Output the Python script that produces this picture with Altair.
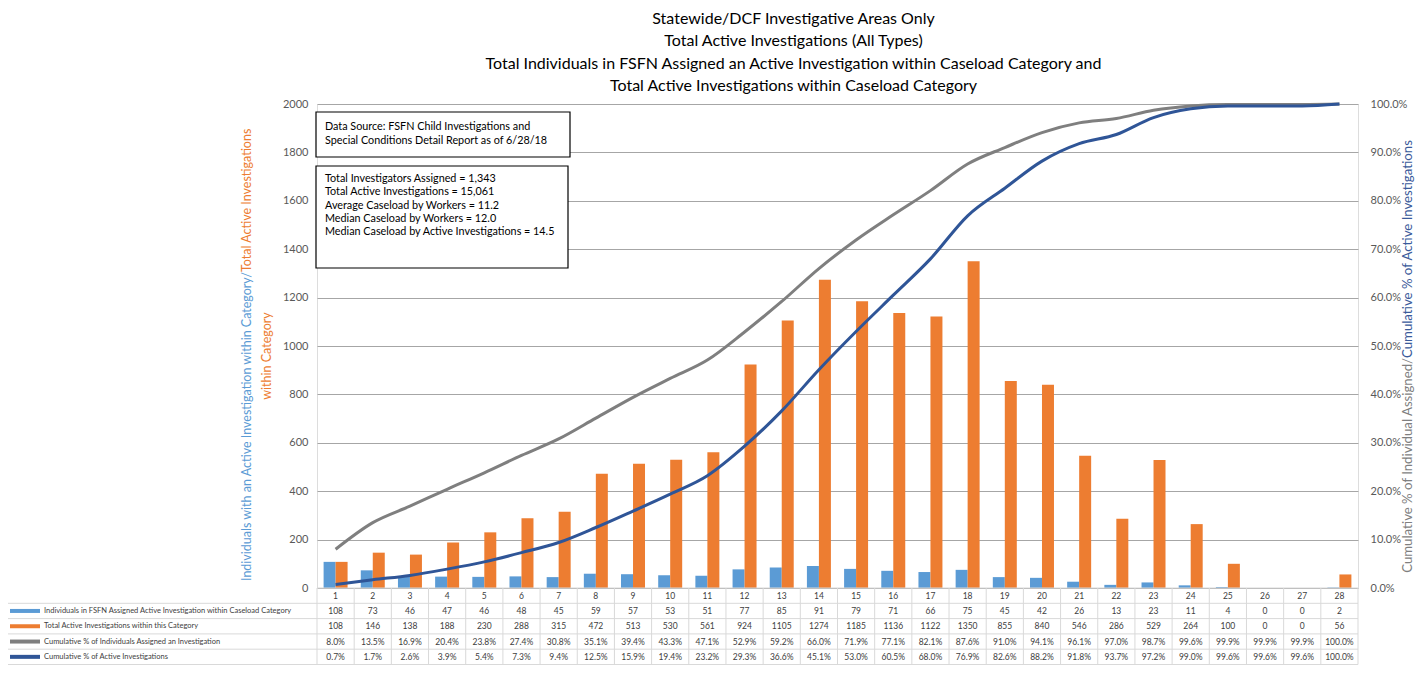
import altair as alt
import pandas as pd

FONT = "Lato"

cats = list(range(1, 29))
individuals = [108, 73, 46, 47, 46, 48, 45, 59, 57, 53, 51, 77, 85, 91, 79, 71, 66, 75, 45, 42, 26, 13, 23, 11, 4, 0, 0, 2]
active = [108, 146, 138, 188, 230, 288, 315, 472, 513, 530, 561, 924, 1105, 1274, 1185, 1136, 1122, 1350, 855, 840, 546, 286, 529, 264, 100, 0, 0, 56]
cum_ind = [8.0, 13.5, 16.9, 20.4, 23.8, 27.4, 30.8, 35.1, 39.4, 43.3, 47.1, 52.9, 59.2, 66.0, 71.9, 77.1, 82.1, 87.6, 91.0, 94.1, 96.1, 97.0, 98.7, 99.6, 99.9, 99.9, 99.9, 100.0]
cum_act = [0.7, 1.7, 2.6, 3.9, 5.4, 7.3, 9.4, 12.5, 15.9, 19.4, 23.2, 29.3, 36.6, 45.1, 53.0, 60.5, 68.0, 76.9, 82.6, 88.2, 91.8, 93.7, 97.2, 99.0, 99.6, 99.6, 99.6, 100.0]

series = [
    "Individuals in FSFN Assigned Active Investigation within Caseload Category",
    "Total Active Investigations within this Category",
    "Cumulative % of Individuals Assigned an Investigation",
    "Cumulative % of Active Investigations",
]
colors = ["#5B9BD5", "#ED7D31", "#7F7F7F", "#2F5597"]

title_lines = [
    "Statewide/DCF Investigative Areas Only",
    "Total Active Investigations (All Types)",
    "Total Individuals in FSFN  Assigned an Active Investigation within  Caseload Category and",
    "Total Active Investigations within  Caseload Category",
]
source_lines = ["Data Source: FSFN Child Investigations and", "Special Conditions Detail Report as of 6/28/18"]
stats_lines = [
    "Total Investigators Assigned = 1,343",
    "Total Active Investigations = 15,061",
    "Average Caseload by Workers = 11.2",
    "Median Caseload by Workers = 12.0",
    "Median Caseload by Active Investigations = 14.5",
]
left_title_blue = "Individuals with an Active Investigation within Category/"
left_title_orange = "Total Active Investigations"
left_title_line2 = "within Category"
right_title_gray = "Cumulative % of Individual Assigned/"
right_title_blue = "Cumulative % of Active Investigations"

W, H = 1041, 484

# ---------- data tables ----------
bars_df = pd.DataFrame(
    [{"cat": c, "series": series[0], "value": v} for c, v in zip(cats, individuals)]
    + [{"cat": c, "series": series[1], "value": v} for c, v in zip(cats, active)]
)
lines_df = pd.DataFrame(
    [{"cat": c, "series": series[2], "value": v} for c, v in zip(cats, cum_ind)]
    + [{"cat": c, "series": series[3], "value": v} for c, v in zip(cats, cum_act)]
)
table_rows = []
for i, c in enumerate(cats):
    table_rows.append({"cat": c, "row": 0, "label": str(c)})
    table_rows.append({"cat": c, "row": 1, "label": str(individuals[i])})
    table_rows.append({"cat": c, "row": 2, "label": str(active[i])})
    table_rows.append({"cat": c, "row": 3, "label": f"{cum_ind[i]:.1f}%"})
    table_rows.append({"cat": c, "row": 4, "label": f"{cum_act[i]:.1f}%"})
table_df = pd.DataFrame(table_rows)
legend_df = pd.DataFrame({"row": [1, 2, 3, 4], "series": series})
hlines_df = pd.DataFrame({"b": [0.5, 1.5, 2.5, 3.5, 4.5]})
vlines_df = pd.DataFrame({"cat": cats})
one = pd.DataFrame({"k": [0]})

color_scale = alt.Scale(domain=series, range=colors)
xenc = alt.X("cat:O", scale=alt.Scale(paddingInner=0, paddingOuter=0), axis=None)
tscale = alt.Scale(domain=[-0.5, 4.5], range=[H, H + 76.5], zero=False, nice=False)

bars = alt.Chart(bars_df).mark_bar().encode(
    x=xenc,
    xOffset=alt.XOffset("series:N", scale=alt.Scale(domain=series[:2], paddingOuter=0.55, paddingInner=0)),
    y=alt.Y("value:Q", scale=alt.Scale(domain=[0, 2000], nice=False),
            axis=alt.Axis(orient="left", values=list(range(0, 2001, 200)), title=None, format="d",
                          domain=False, ticks=False, grid=True, gridColor="#A6A6A6",
                          labelFont=FONT, labelFontSize=11, labelColor="#595959", labelPadding=9)),
    color=alt.Color("series:N", scale=color_scale, legend=None),
)

lines = alt.Chart(lines_df).mark_line(strokeWidth=3, interpolate="monotone").encode(
    x=xenc,
    y=alt.Y("value:Q", scale=alt.Scale(domain=[0, 100], nice=False),
            axis=alt.Axis(orient="right", values=list(range(0, 101, 10)), title=None,
                          domain=False, ticks=False, grid=False,
                          labelExpr="format(datum.value, '.1f') + '%'",
                          labelFont=FONT, labelFontSize=11, labelColor="#595959", labelPadding=12)),
    color=alt.Color("series:N", scale=color_scale, legend=None),
)

box1 = alt.Chart(one).mark_rect(fill="white", stroke="black", strokeWidth=1.2).encode(
    x=alt.value(-1), x2=alt.value(253), y=alt.value(8), y2=alt.value(53))
box2 = alt.Chart(one).mark_rect(fill="white", stroke="black", strokeWidth=1.2).encode(
    x=alt.value(-1), x2=alt.value(251), y=alt.value(62), y2=alt.value(164))
box1_text = alt.Chart(one).mark_text(align="left", baseline="middle", font=FONT, fontSize=10.8,
                                     lineHeight=14, color="black").encode(
    x=alt.value(8), y=alt.value(23), text=alt.value(source_lines))
box2_text = alt.Chart(one).mark_text(align="left", baseline="middle", font=FONT, fontSize=10.8,
                                     lineHeight=13.3, color="black").encode(
    x=alt.value(8), y=alt.value(75), text=alt.value(stats_lines))

# table grid
h_top = alt.Chart(one).mark_rule(color="#D9D9D9", strokeWidth=1).encode(
    y=alt.Y(datum=-0.5, type="quantitative", scale=tscale, axis=None), x=alt.value(0), x2=alt.value(W))
h_rules = alt.Chart(hlines_df).mark_rule(color="#D9D9D9", strokeWidth=1).encode(
    y=alt.Y("b:Q", scale=tscale, axis=None), x=alt.value(-310), x2=alt.value(W))
v_rules = alt.Chart(vlines_df).mark_rule(color="#D9D9D9", strokeWidth=1).encode(
    x=alt.X("cat:O", scale=alt.Scale(paddingInner=0, paddingOuter=0), axis=None, bandPosition=0),
    y=alt.Y(datum=-0.5, type="quantitative", scale=tscale, axis=None), y2=alt.Y2(datum=4.5))
v_right = alt.Chart(one).mark_rule(color="#D9D9D9", strokeWidth=1).encode(
    x=alt.value(W), y=alt.Y(datum=-0.5, type="quantitative", scale=tscale, axis=None), y2=alt.Y2(datum=4.5))
v_left = alt.Chart(one).mark_rule(color="#D9D9D9", strokeWidth=1).encode(
    x=alt.value(-310), y=alt.Y(datum=0.5, type="quantitative", scale=tscale, axis=None), y2=alt.Y2(datum=4.5))

table_text = alt.Chart(table_df).mark_text(baseline="middle", align="center", font=FONT, fontSize=8.5,
                                           color="#404040").encode(
    x=xenc, y=alt.Y("row:Q", scale=tscale, axis=None), text="label:N")
swatches = alt.Chart(legend_df).mark_rule(strokeWidth=4).encode(
    x=alt.value(-307), x2=alt.value(-277), y=alt.Y("row:Q", scale=tscale, axis=None),
    color=alt.Color("series:N", scale=color_scale, legend=None))
legend_text = alt.Chart(legend_df).mark_text(align="left", baseline="middle", font=FONT, fontSize=7.5,
                                             color="#404040").encode(
    x=alt.value(-273), y=alt.Y("row:Q", scale=tscale, axis=None), text="series:N")

# axis titles as text
lt1 = alt.Chart(one).mark_text(angle=270, align="right", baseline="middle", font=FONT, fontSize=12.5,
                               color="#5B9BD5").encode(x=alt.value(-70), y=alt.value(168), text=alt.value(left_title_blue))
lt2 = alt.Chart(one).mark_text(angle=270, align="left", baseline="middle", font=FONT, fontSize=12.5,
                               color="#ED7D31").encode(x=alt.value(-70), y=alt.value(168), text=alt.value(left_title_orange))
lt3 = alt.Chart(one).mark_text(angle=270, align="center", baseline="middle", font=FONT, fontSize=12.5,
                               color="#ED7D31").encode(x=alt.value(-50), y=alt.value(252), text=alt.value(left_title_line2))
rt1 = alt.Chart(one).mark_text(angle=270, align="right", baseline="middle", font=FONT, fontSize=13.2,
                               color="#7F7F7F").encode(x=alt.value(1091), y=alt.value(254), text=alt.value(right_title_gray))
rt2 = alt.Chart(one).mark_text(angle=270, align="left", baseline="middle", font=FONT, fontSize=13.2,
                               color="#3A5A9A").encode(x=alt.value(1091), y=alt.value(254), text=alt.value(right_title_blue))

chart = alt.layer(
    bars, lines, box1, box2, box1_text, box2_text,
    h_top, h_rules, v_rules, v_right, v_left,
    table_text, swatches, legend_text,
    lt1, lt2, lt3, rt1, rt2,
).resolve_scale(y="independent").properties(
    width=W, height=H,
    title=alt.TitleParams(text=title_lines, font=FONT, fontSize=16, fontWeight="normal", color="black",
                          lineHeight=22.5, anchor="middle", frame="group", offset=4, dx=-44),
    autosize=alt.AutoSizeParams(type="none"),
    padding={"left": 309, "top": 96, "right": 61, "bottom": 77},
).configure_view(stroke=None).configure(background="white")

chart.save("out.html", embed_options={"renderer": "svg", "actions": False})
